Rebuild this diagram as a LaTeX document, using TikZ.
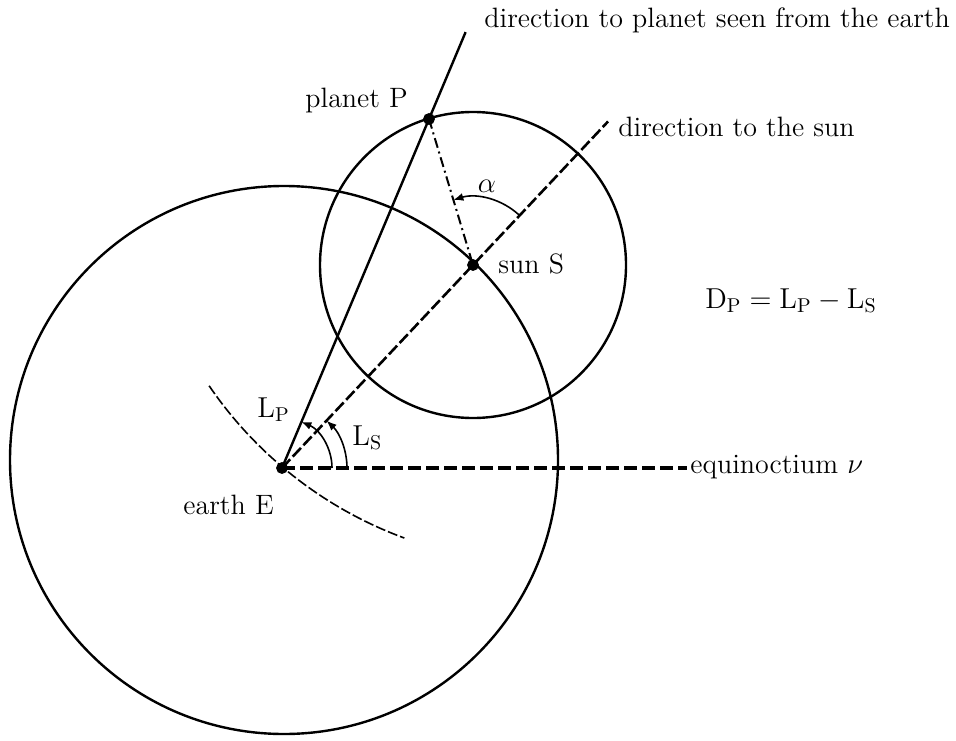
\documentclass[tikz,border=0pt]{standalone}
\usepackage{amsmath}
\usepackage{tikz}
\usetikzlibrary{calc,arrows.meta}

\begin{document}
\begin{tikzpicture}[x=0.5pt,y=0.5pt,font=\fontsize{14}{16}\selectfont,
  orbit/.style={draw=black,line width=1.2pt},
  sight/.style={draw=black,line width=1.2pt},
  sunline/.style={draw=black,line width=1.3pt,dash pattern=on 6pt off 1.8pt},
  equinox/.style={draw=black,line width=1.7pt,dash pattern=on 6.5pt off 2.5pt},
  track/.style={draw=black,line width=0.8pt,dash pattern=on 5pt off 1.5pt},
  elong/.style={draw=black,line width=1pt,dash pattern=on 5pt off 2pt on 1pt off 2pt},
  angarc/.style={draw=black,line width=0.8pt,-{Latex[length=5pt,width=4pt]}},
  body/.style={circle,fill=black,draw=black,inner sep=0pt,minimum size=5.5pt},
  txt/.style={inner sep=0pt,anchor=base west}]
\useasboundingbox (0,0) rectangle (956,740);
\coordinate (E) at (282,272);
\coordinate (S) at (473,475);
\coordinate (P) at (429,621);
\coordinate (C) at (544.5,583);
\coordinate (planettip) at ($(E)!1.249!(P)$);
\coordinate (suntip) at ($(E)!1.707!(S)$);
\coordinate (vernal) at (687,272);
\draw[orbit] (284,280) circle[radius=274];
\draw[orbit] (S) circle[radius=153];
\draw[track] ($(C)+(214.3:406)$) arc[start angle=214.3,end angle=249.8,radius=406];
\draw[sight] (E) -- (planettip);
\draw[sunline] (E) -- (suntip);
\draw[equinox] (E) -- (vernal);
\draw[elong] (P) -- (S);
\draw[angarc] ($(E)+(50,0)$) arc[start angle=0,end angle=67.2,radius=50];
\draw[angarc] ($(E)+(65,0)$) arc[start angle=0,end angle=46.7,radius=65];
\draw[angarc] ($(S)+(46.7:68)$) arc[start angle=46.7,end angle=106.8,radius=68];
\node[body] (earth) at (E) {};
\node[body] (sun) at (S) {};
\node[body] (planet) at (P) {};
\node[txt] (planetlabel) at (305,632) {planet P};
\node[txt] (sightlabel) at (484,712) {direction to planet seen from the earth};
\node[txt] (sunlabel) at (618,603) {direction to the sun};
\node (alphalabel) at (487,554) {$\alpha$};
\node[txt] (sunname) at (498,467) {sun S};
\node[txt] (formula) at (705,432) {$\mathrm{D_P = L_P - L_S}$};
\node[txt] (lplabel) at (257,323) {$\mathrm{L_P}$};
\node[txt] (lslabel) at (352,295) {$\mathrm{L_S}$};
\node[txt] (earthname) at (183,226) {earth E};
\node[txt] (equinoxlabel) at (690,267) {equinoctium $\nu$};
\end{tikzpicture}
\end{document}
